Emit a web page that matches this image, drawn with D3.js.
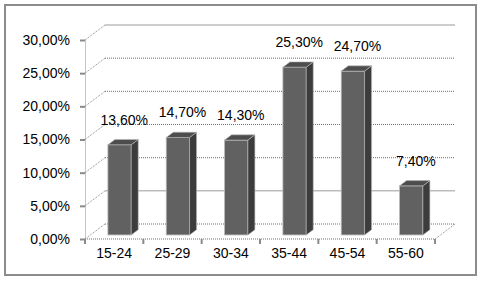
<!DOCTYPE html>
<html>
<head>
<meta charset="utf-8">
<script src="https://cdn.jsdelivr.net/npm/d3@7"></script>
<style>
  body { margin: 0; background: #fff; }
  text { font-family: "Liberation Sans", Arial, sans-serif; font-size: 14px; fill: #000; }
</style>
</head>
<body>
<svg width="484" height="282"></svg>
<script>
const categories = ["15-24", "25-29", "30-34", "35-44", "45-54", "55-60"]
const values = [13.6, 14.7, 14.3, 25.3, 24.7, 7.4]
const yTicks = [0, 5, 10, 15, 20, 25, 30]

const width = 484,
  height = 282,
  left = 85,
  right = 435,
  depthX = 20,
  depthY = -15,
  barFront = 0.27,
  barBack = 0.62

const fmt = d3.formatLocale({ decimal: ",", thousands: ".", grouping: [3], currency: ["", ""] }).format(".2f")
const pct = v => fmt(v) + "%"

const svg = d3.select("svg")

svg.append("rect")
  .attr("x", 5).attr("y", 5)
  .attr("width", 471).attr("height", 270)
  .attr("fill", "#fff")
  .attr("stroke", "#8c8c8c")
  .attr("stroke-width", 2)

const y = d3.scaleLinear().domain([0, 30]).range([239, 40])
const x = d3.scaleBand().domain(categories).range([left, right]).paddingInner(0.6).paddingOuter(0.3)

// back wall + side wall grid
const dash = t => (t === 30 || t === 5) ? null : "1,1"
const grid = svg.append("g")
grid.selectAll(".back")
  .data(yTicks)
  .enter()
  .append("line")
  .attr("x1", left + depthX).attr("x2", right + depthX)
  .attr("y1", d => y(d) + depthY).attr("y2", d => y(d) + depthY)
  .attr("stroke", d => dash(d) ? "#707070" : "#9a9a9a")
  .attr("stroke-dasharray", dash)
grid.selectAll(".side")
  .data(yTicks)
  .enter()
  .append("line")
  .attr("x1", left).attr("x2", left + depthX)
  .attr("y1", d => y(d)).attr("y2", d => y(d) + depthY)
  .attr("stroke", "#8a8a8a")
  .attr("stroke-dasharray", "1,1")

// floor
grid.append("line")
  .attr("x1", left).attr("x2", right)
  .attr("y1", y(0)).attr("y2", y(0))
  .attr("stroke", "#707070").attr("stroke-dasharray", "1,1")
grid.append("line")
  .attr("x1", right).attr("x2", right + depthX)
  .attr("y1", y(0)).attr("y2", y(0) + depthY)
  .attr("stroke", "#8a8a8a").attr("stroke-dasharray", "1,1")

// y axis
const yAxis = svg.append("g")
  .attr("transform", `translate(${left},0)`)
  .call(d3.axisLeft(y).tickValues(yTicks).tickFormat(pct).tickSize(5).tickSizeOuter(0).tickPadding(10))
yAxis.select(".domain").attr("stroke", "#8a8a8a").attr("stroke-dasharray", "1,1")
yAxis.selectAll(".tick line").attr("stroke", "#8a8a8a").attr("stroke-width", 2)
yAxis.selectAll("text").attr("font-family", null).attr("font-size", null).attr("fill", "#000")

// category ticks at band boundaries
const step = x.step()
svg.append("g").selectAll("line")
  .data(d3.range(categories.length + 1))
  .enter()
  .append("line")
  .attr("x1", i => left + i * step).attr("x2", i => left + i * step)
  .attr("y1", y(0)).attr("y2", y(0) + 5)
  .attr("stroke", "#8a8a8a").attr("stroke-width", 2)

const xAxis = svg.append("g")
  .attr("transform", `translate(0,${y(0)})`)
  .call(d3.axisBottom(x).tickSize(0).tickPadding(9))
xAxis.select(".domain").remove()
xAxis.selectAll("text").attr("font-family", null).attr("font-size", null).attr("fill", "#000")

// bars
const bw = x.bandwidth()
const fx = barFront * depthX, fy = barFront * depthY
const dx = (barBack - barFront) * depthX, dy = (barBack - barFront) * depthY
const bars = svg.append("g").selectAll(".bar")
  .data(categories.map((c, i) => ({ c, v: values[i] })))
  .enter()
  .append("g")
  .attr("class", "bar")

bars.append("rect")
  .attr("x", d => x(d.c) + fx)
  .attr("y", d => y(d.v) + fy)
  .attr("width", bw)
  .attr("height", d => y(0) - y(d.v))
  .attr("fill", "#616161")
  .attr("stroke", "#b8b8b8").attr("stroke-width", 0.8)

bars.append("path")
  .attr("d", d => {
    const xr = x(d.c) + fx + bw, yt = y(d.v) + fy, yb = y(0) + fy
    return `M${xr},${yt}L${xr + dx},${yt + dy}L${xr + dx},${yb + dy}L${xr},${yb}Z`
  })
  .attr("fill", "#3c3c3c")
  .attr("stroke", "#b8b8b8").attr("stroke-width", 0.6)

bars.append("path")
  .attr("d", d => {
    const xl = x(d.c) + fx, xr = xl + bw, yt = y(d.v) + fy
    return `M${xl},${yt}L${xl + dx},${yt + dy}L${xr + dx},${yt + dy}L${xr},${yt}Z`
  })
  .attr("fill", "#4d4d4d")
  .attr("stroke", "#b8b8b8").attr("stroke-width", 0.6)

// value labels
bars.append("text")
  .attr("x", d => x(d.c) + bw / 2 + depthX / 2)
  .attr("y", d => y(d.v) - 24)
  .attr("text-anchor", "middle")
  .text(d => pct(d.v))
</script>
</body>
</html>
